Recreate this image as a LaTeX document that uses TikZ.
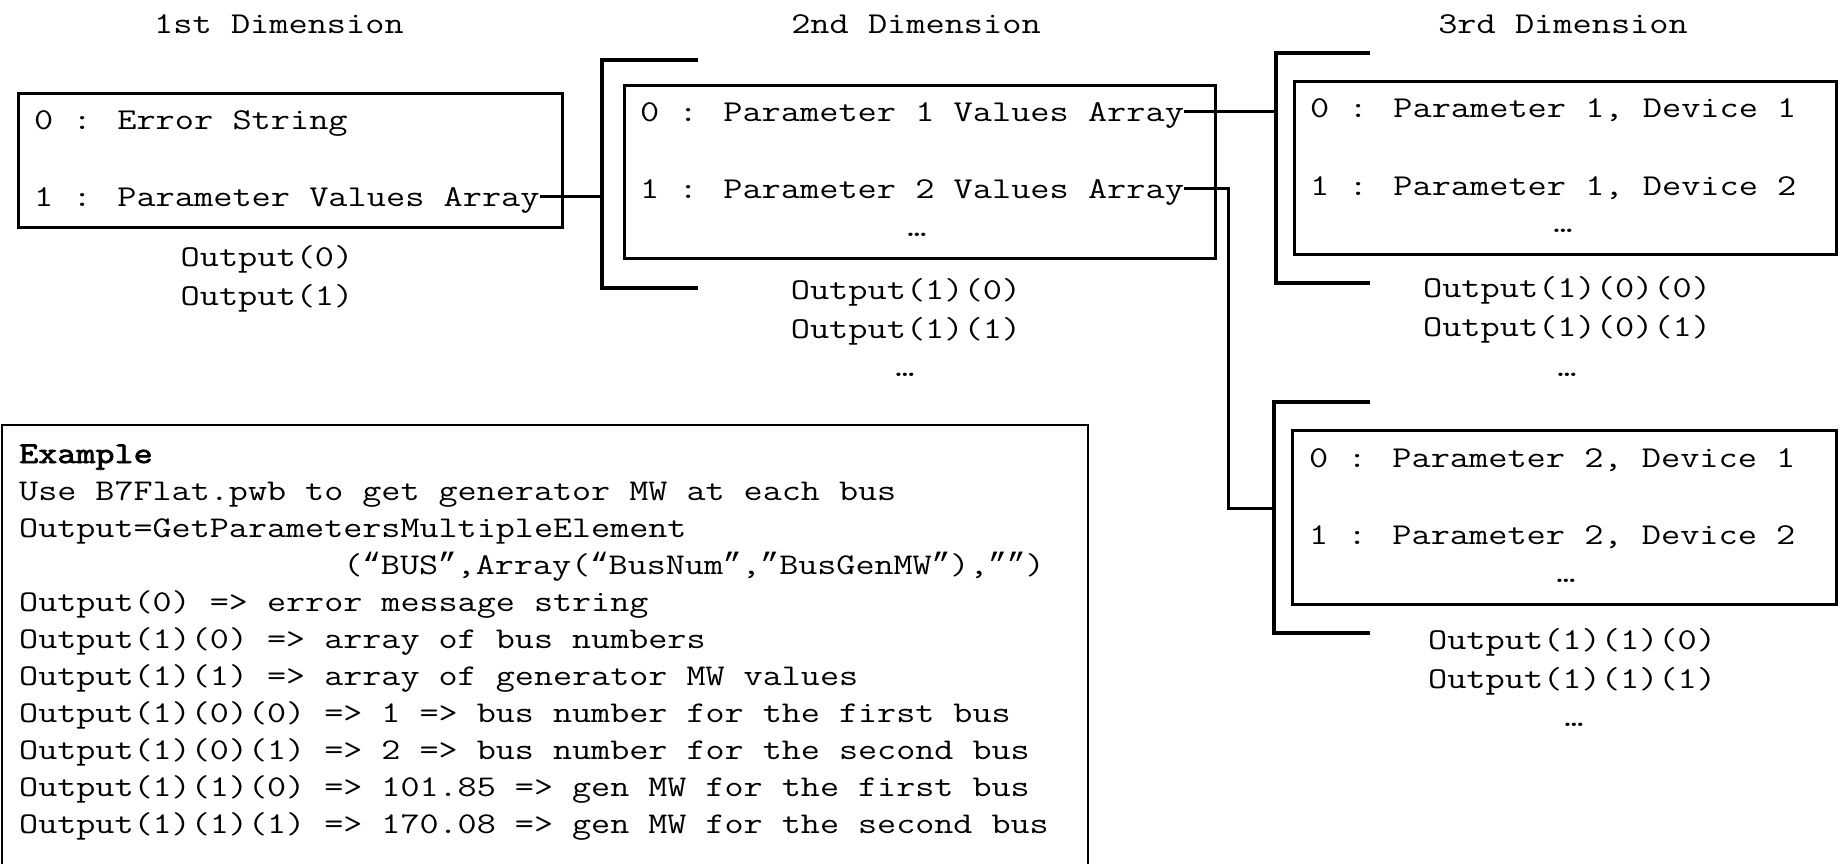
\documentclass[tikz,border=0pt]{standalone}
\usepackage{fontspec}
\newfontfamily\mono{Latin Modern Mono}[FakeStretch=1.23]
\newfontfamily\monobold{Latin Modern Mono}[FakeStretch=1.23, FakeBold=2.5]
\newfontfamily\quotefont{Liberation Mono}
% curly quotes, set one cell wide like the surrounding typewriter text
\newcommand\openq{{\quotefont\fontsize{30.9}{37}\selectfont “}}
\newcommand\closeq{{\quotefont\fontsize{30.9}{37}\selectfont ”}}
\begin{document}
\begin{tikzpicture}[x=1pt,y=-1pt,
  lbl/.style={inner sep=0pt, font=\mono\fontsize{30.3}{38}\selectfont},
  row/.style={lbl, anchor=base west},
  ctr/.style={lbl, anchor=base},
  frame/.style={draw, line width=3.4pt, rectangle, inner sep=0pt, anchor=north west},
  brk/.style={draw, line width=3.4pt},
  link/.style={draw, line width=3pt},
  exl/.style={inner sep=0pt, anchor=base west, font=\mono\fontsize{30.1}{37}\selectfont}]

\useasboundingbox (0,0) rectangle (1841,863);

% dimension headings
\node[ctr] (h1) at (279,33) {1st Dimension};
\node[ctr] (h2) at (916,33) {2nd Dimension};
\node[ctr] (h3) at (1563,33) {3rd Dimension};

% 1st dimension
\node[frame, minimum width=544pt, minimum height=134.5pt] (box1) at (17,91.5) {};
\node[row] (r10) at (34,129) {0 : Error String};
\node[row] (r11) at (34,206) {1 : Parameter Values Array};
\node[ctr] (o10) at (267,266) {Output(0)};
\node[ctr] (o11) at (267,305) {Output(1)};

% 2nd dimension
\coordinate (b2t) at (602,60);
\coordinate (b2b) at (602,288);
\draw[brk] (698,60) -- (b2t) -- (b2b) -- (698,288);
\node[frame, minimum width=591pt, minimum height=173.5pt] (box2) at (623,83.5) {};
\node[row] (r20) at (640,121) {0 : Parameter 1 Values Array};
\node[row] (r21) at (640,198) {1 : Parameter 2 Values Array};
\node[ctr] (d2) at (917,236) {…};
\node[ctr] (o20) at (906,299) {Output(1)(0)};
\node[ctr] (o21) at (906,338) {Output(1)(1)};
\node[ctr] (o2d) at (905,376) {…};

% 3rd dimension, parameter 1
\coordinate (b3t) at (1276,53);
\coordinate (b3b) at (1276,283);
\draw[brk] (1370,53) -- (b3t) -- (b3b) -- (1370,283);
\node[frame, minimum width=542pt, minimum height=173pt] (box3) at (1293,80) {};
\node[row] (r30) at (1310,117) {0 : Parameter 1, Device 1};
\node[row] (r31) at (1310,195) {1 : Parameter 1, Device 2};
\node[ctr] (d3) at (1563,232) {…};
\node[ctr] (o30) at (1567,297) {Output(1)(0)(0)};
\node[ctr] (o31) at (1567,336) {Output(1)(0)(1)};
\node[ctr] (o3d) at (1567,376) {…};

% 3rd dimension, parameter 2
\coordinate (b4t) at (1274,402);
\coordinate (b4b) at (1274,633);
\draw[brk] (1370,402) -- (b4t) -- (b4b) -- (1370,633);
\node[frame, minimum width=544pt, minimum height=174pt] (box4) at (1291,429) {};
\node[row] (r40) at (1309,467) {0 : Parameter 2, Device 1};
\node[row] (r41) at (1309,544) {1 : Parameter 2, Device 2};
\node[ctr] (d4) at (1566,582) {…};
\node[ctr] (o40) at (1572,649) {Output(1)(1)(0)};
\node[ctr] (o41) at (1572,688) {Output(1)(1)(1)};
\node[ctr] (o4d) at (1574,726) {…};

% links from array entries to the next dimension
\coordinate (k3) at (1228,508);
\coordinate (s11) at ([yshift=9.3pt]r11.base east);
\coordinate (s20) at ([yshift=9.3pt]r20.base east);
\coordinate (s21) at ([yshift=9.3pt]r21.base east);
\draw[link] (s11) -- (s11 -| b2t);
\draw[link] (s20) -- (s20 -| b3t);
\draw[link] (s21) -- (s21 -| k3) -- (k3) -- (k3 -| b4t);

% worked example
\draw[line width=2.4pt] (2,880) -- (2,425) -- (1088,425) -- (1088,880);
\node[exl] (e1) at (19,463) {\monobold Example};
\node[exl] (e2) at (19,500) {Use B7Flat.pwb to get generator MW at each bus};
\node[exl] (e3) at (19,537) {Output=GetParametersMultipleElement};
\node[exl] (e4) at (19,574) {\hphantom{00000000000000000}(\openq BUS\closeq,Array(\openq BusNum\closeq,\closeq BusGenMW\closeq),\closeq\closeq)};
\node[exl] (e5) at (19,611) {Output(0) => error message string};
\node[exl] (e6) at (19,648) {Output(1)(0) => array of bus numbers};
\node[exl] (e7) at (19,685) {Output(1)(1) => array of generator MW values};
\node[exl] (e8) at (19,722) {Output(1)(0)(0) => 1 => bus number for the first bus};
\node[exl] (e9) at (19,759) {Output(1)(0)(1) => 2 => bus number for the second bus};
\node[exl] (e10) at (19,796) {Output(1)(1)(0) => 101.85 => gen MW for the first bus};
\node[exl] (e11) at (19,833) {Output(1)(1)(1) => 170.08 => gen MW for the second bus};
\end{tikzpicture}
\end{document}
